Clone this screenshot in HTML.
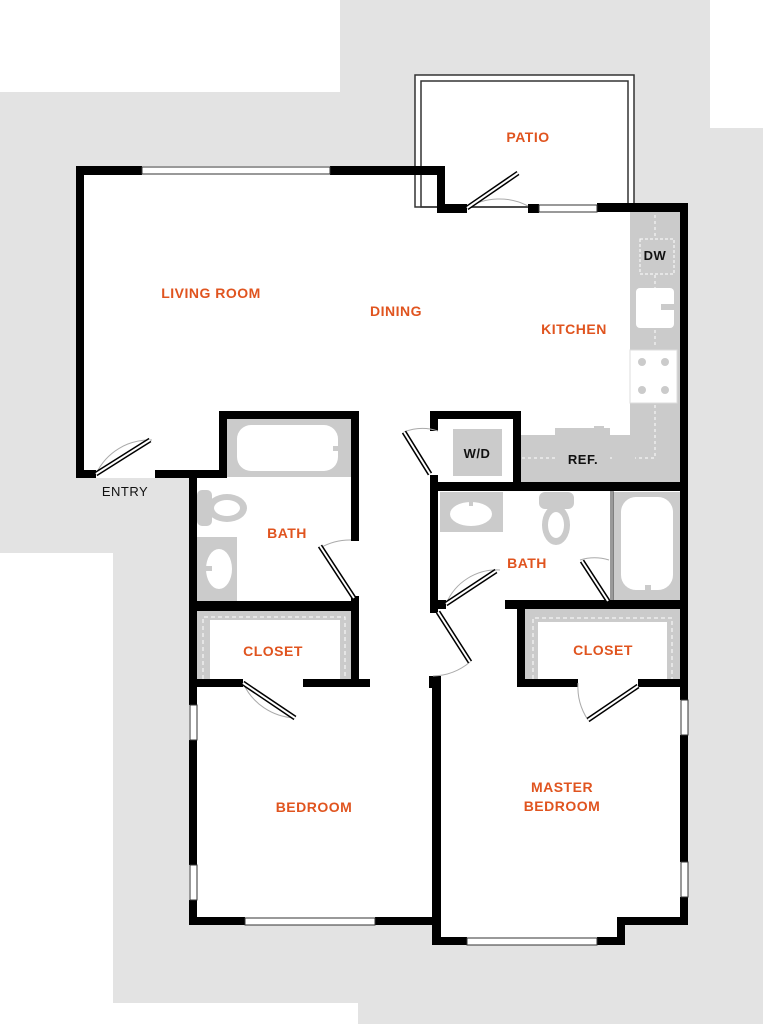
<!DOCTYPE html>
<html><head><meta charset="utf-8"><style>
html,body{margin:0;padding:0;background:#fff}
svg{display:block}
.l{font-family:"Liberation Sans",sans-serif;font-size:14px;font-weight:bold;fill:#e0541f;text-anchor:middle;letter-spacing:0.5px}
.k{font-family:"Liberation Sans",sans-serif;font-size:13px;font-weight:bold;fill:#111;text-anchor:middle;letter-spacing:0.5px}
</style></head><body>
<svg width="763" height="1024" viewBox="0 0 763 1024" xmlns="http://www.w3.org/2000/svg">
<rect width="763" height="1024" fill="#fff"/>
<polygon points="0,92 340,92 340,0 710,0 710,128 763,128 763,1024 358,1024 358,1003 113,1003 113,553 0,553" fill="#e3e3e3"/>
<g fill="#fff">
<rect x="415" y="75" width="219" height="135"/>
<polygon points="76,166 445,166 445,204 688,204 688,925 625,925 625,945 432,945 432,925 189,925 189,478 76,478"/>
</g>
<rect x="415" y="75" width="219" height="132" fill="none" stroke="#333" stroke-width="1.5"/>
<rect x="421" y="81" width="207" height="126" fill="none" stroke="#333" stroke-width="1.5"/>
<g fill="#cbcbcb">
<rect x="630" y="211" width="51" height="272"/>
<rect x="521" y="435" width="160" height="48"/>
<rect x="555" y="428" width="55" height="55"/>
<rect x="453" y="429" width="49" height="47"/>
</g>
<rect x="640" y="239" width="34" height="35" fill="#cbcbcb" stroke="#fff" stroke-dasharray="3,2"/>
<path d="M655 215V237M655 275V292M655 330V348M655 405V458H635M612 458H610M555 458H521" stroke="#fff" stroke-dasharray="3,3" fill="none"/>
<rect x="636" y="288" width="38" height="40" rx="4" fill="#fff"/>
<rect x="661" y="304" width="16" height="6" fill="#cbcbcb"/>
<rect x="630" y="350" width="47" height="53" fill="#fff" stroke="#ddd"/>
<g fill="#cbcbcb"><circle cx="642" cy="362" r="4"/><circle cx="665" cy="362" r="4"/><circle cx="642" cy="390" r="4"/><circle cx="665" cy="390" r="4"/></g>
<rect x="594" y="426" width="10" height="3" fill="#cbcbcb"/>
<rect x="227" y="419" width="124" height="58" fill="#cbcbcb"/>
<rect x="237" y="425" width="101" height="46" rx="14" fill="#fff"/>
<rect x="333" y="446" width="8" height="5" fill="#cbcbcb"/>
<rect x="197" y="490" width="15" height="36" rx="5" fill="#cbcbcb"/>
<ellipse cx="227" cy="508" rx="20" ry="14" fill="#cbcbcb"/><ellipse cx="227" cy="508" rx="13" ry="8" fill="#fff"/>
<rect x="197" y="537" width="40" height="64" fill="#cbcbcb"/>
<ellipse cx="219" cy="569" rx="13" ry="20" fill="#fff"/><rect x="202" y="566" width="10" height="5" fill="#cbcbcb"/>
<rect x="197" y="611" width="154" height="68" fill="#cbcbcb"/>
<rect x="210" y="620" width="130" height="59" fill="#fff"/>
<path d="M203 679V617H345V679" stroke="#fff" stroke-dasharray="4,3" fill="none"/>
<rect x="440" y="492" width="63" height="40" fill="#cbcbcb"/>
<ellipse cx="471" cy="514" rx="21" ry="12" fill="#fff"/><rect x="469" y="495" width="4" height="11" fill="#cbcbcb"/>
<rect x="539" y="492" width="35" height="17" rx="6" fill="#cbcbcb"/>
<ellipse cx="556" cy="525" rx="14" ry="20" fill="#cbcbcb"/><ellipse cx="556" cy="525" rx="8" ry="13" fill="#fff"/>
<rect x="613" y="492" width="67" height="109" fill="#cbcbcb"/>
<rect x="621" y="497" width="52" height="93" rx="15" fill="#fff"/>
<rect x="645" y="585" width="6" height="9" fill="#cbcbcb"/>
<path d="M611 491V601M613 491V601" stroke="#333" stroke-width="1"/>
<rect x="525" y="609" width="155" height="70" fill="#cbcbcb"/>
<rect x="538" y="622" width="129" height="57" fill="#fff"/>
<path d="M533 679V618H672V679" stroke="#fff" stroke-dasharray="4,3" fill="none"/>
<g fill="#000">
<rect x="76" y="166" width="66" height="9"/>
<rect x="330" y="166" width="115" height="9"/>
<rect x="437" y="166" width="8" height="46"/>
<rect x="437" y="204" width="30" height="9"/>
<rect x="528" y="204" width="11" height="9"/>
<rect x="597" y="203" width="91" height="9"/>
<rect x="680" y="203" width="8" height="497"/>
<rect x="76" y="166" width="8" height="312"/>
<rect x="76" y="470" width="20" height="8"/>
<rect x="155" y="470" width="72" height="8"/>
<rect x="219" y="411" width="8" height="67"/>
<rect x="219" y="411" width="140" height="8"/>
<rect x="351" y="411" width="8" height="130"/>
<rect x="189" y="478" width="8" height="227"/>
<rect x="189" y="740" width="8" height="125"/>
<rect x="189" y="900" width="8" height="25"/>
<rect x="189" y="601" width="170" height="10"/>
<rect x="351" y="596" width="8" height="91"/>
<rect x="189" y="679" width="54" height="8"/>
<rect x="303" y="679" width="67" height="8"/>
<rect x="189" y="917" width="56" height="8"/>
<rect x="375" y="917" width="66" height="8"/>
<rect x="432" y="676" width="9" height="269"/>
<rect x="429" y="676" width="4" height="12"/>
<rect x="432" y="937" width="35" height="8"/>
<rect x="597" y="937" width="28" height="8"/>
<rect x="617" y="917" width="8" height="28"/>
<rect x="617" y="917" width="71" height="8"/>
<rect x="680" y="735" width="8" height="127"/>
<rect x="680" y="897" width="8" height="28"/>
<rect x="430" y="411" width="91" height="8"/>
<rect x="513" y="411" width="8" height="74"/>
<rect x="430" y="411" width="8" height="20"/>
<rect x="430" y="475" width="8" height="138"/>
<rect x="430" y="482" width="258" height="9"/>
<rect x="430" y="600" width="16" height="9"/>
<rect x="505" y="600" width="183" height="9"/>
<rect x="517" y="600" width="8" height="87"/>
<rect x="517" y="679" width="61" height="8"/>
<rect x="638" y="679" width="50" height="8"/>
</g>
<g fill="#fff" stroke="#333" stroke-width="1">
<rect x="142" y="167" width="188" height="7"/>
<rect x="539" y="205" width="58" height="7"/>
<rect x="245" y="918" width="130" height="7"/>
<rect x="467" y="938" width="130" height="7"/>
<rect x="190" y="705" width="7" height="35"/>
<rect x="190" y="865" width="7" height="35"/>
<rect x="681" y="700" width="7" height="35"/>
<rect x="681" y="862" width="7" height="35"/>
</g>
<g stroke="#aaa" stroke-width="1" fill="none">
<path d="M96 474 A59 59 0 0 1 152 440"/>
<path d="M467 208 A62 62 0 0 1 528 206"/>
<path d="M351 540 A60 60 0 0 0 320 548"/>
<path d="M243 683 A60 60 0 0 0 295 718"/>
<path d="M438 431 A50 50 0 0 0 404 432"/>
<path d="M446 604 A55 55 0 0 1 500 570"/>
<path d="M433 676 A60 60 0 0 0 470 662"/>
<path d="M578 683 A60 60 0 0 0 588 720"/>
<path d="M609 560 A50 50 0 0 0 580 560"/>
</g>
<g stroke="#000" stroke-width="5">
<line x1="96" y1="474" x2="150" y2="440"/>
<line x1="467" y1="208" x2="518" y2="173"/>
<line x1="320" y1="546" x2="354" y2="598"/>
<line x1="243" y1="683" x2="295" y2="718"/>
<line x1="404" y1="432" x2="430" y2="474"/>
<line x1="446" y1="604" x2="496" y2="571"/>
<line x1="438" y1="612" x2="470" y2="662"/>
<line x1="588" y1="720" x2="638" y2="686"/>
<line x1="582" y1="561" x2="608" y2="601"/>
</g>
<g stroke="#fff" stroke-width="2">
<line x1="96" y1="474" x2="150" y2="440"/>
<line x1="467" y1="208" x2="518" y2="173"/>
<line x1="320" y1="546" x2="354" y2="598"/>
<line x1="243" y1="683" x2="295" y2="718"/>
<line x1="404" y1="432" x2="430" y2="474"/>
<line x1="446" y1="604" x2="496" y2="571"/>
<line x1="438" y1="612" x2="470" y2="662"/>
<line x1="588" y1="720" x2="638" y2="686"/>
<line x1="582" y1="561" x2="608" y2="601"/>
</g>
<text class="l" x="528" y="142">PATIO</text>
<text class="l" x="211" y="298">LIVING ROOM</text>
<text class="l" x="396" y="316">DINING</text>
<text class="l" x="574" y="334">KITCHEN</text>
<text class="l" x="287" y="538">BATH</text>
<text class="l" x="527" y="568">BATH</text>
<text class="l" x="273" y="656">CLOSET</text>
<text class="l" x="603" y="655">CLOSET</text>
<text class="l" x="314" y="812">BEDROOM</text>
<text class="l" x="562" y="792">MASTER</text>
<text class="l" x="562" y="811">BEDROOM</text>
<text class="k" x="655" y="260">DW</text>
<text class="k" x="477" y="458">W/D</text>
<text class="k" x="583" y="464">REF.</text>
<text class="k" x="125" y="496" style="font-weight:normal">ENTRY</text>
</svg>
</body></html>
